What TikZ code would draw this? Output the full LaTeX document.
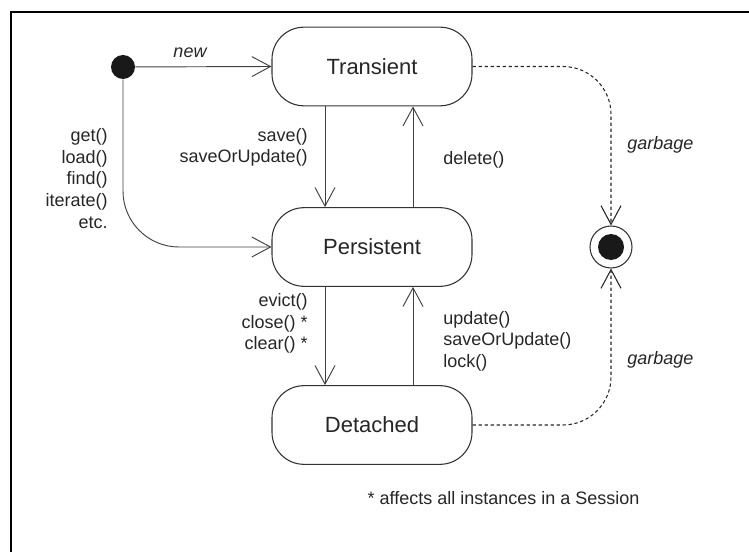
\documentclass[tikz,border=0pt]{standalone}
\usepackage{fontspec}
\setmainfont{Liberation Sans}
\usetikzlibrary{arrows.meta}
\begin{document}
\begin{tikzpicture}[x=0.75pt,y=-0.75pt,
  state/.style={draw=black!80, line width=0.8pt, rounded corners=24pt, minimum width=150pt, minimum height=59pt, font=\fontsize{16.5}{19}\selectfont, text=black!85},
  lbl/.style={font=\fontsize{13.5}{16.2}\selectfont, text=black!85, inner sep=0pt},
  ilbl/.style={font=\fontsize{13.5}{16.2}\selectfont\itshape, text=black!85, inner sep=0pt},
  arr/.style={draw=black!75, line width=0.7pt, -{Straight Barb[length=14pt,width=15pt]}},
  darr/.style={arr, draw=black!85, line width=0.8pt, dash pattern=on 2.5pt off 2pt, rounded corners=36pt}
]
\useasboundingbox (0,0) rectangle (749,552);
\draw[line width=1.2pt] (11,552) -- (11,12) -- (749,12);

\node[state] (T) at (372,66.5) {Transient};
\node[state] (P) at (372,247) {Persistent};
\node[state] (D) at (372,425) {Detached};

\node[circle, fill=black!90, minimum size=18pt, inner sep=0pt] (I) at (123,67) {};
\node[circle, draw=black!80, line width=0.8pt, minimum size=31.5pt, inner sep=0pt] (F) at (611,247) {};
\node[circle, fill=black!90, minimum size=19.5pt, inner sep=0pt] (Fi) at (611,247) {};

% connectors
\draw[arr] (I) -- (T.west);
\draw[arr, rounded corners=42pt] (I) |- (P.west);
\draw[arr] ([xshift=-35.25pt]T.south) -- ([xshift=-35.25pt]P.north);
\draw[arr] ([xshift=30.75pt]P.north) -- ([xshift=30.75pt]T.south);
\draw[arr] ([xshift=-35.25pt]P.south) -- ([xshift=-35.25pt]D.north);
\draw[arr] ([xshift=30.75pt]D.north) -- ([xshift=30.75pt]P.south);
\draw[darr] (T.east) -| (F.north);
\draw[darr] (D.east) -| (F.south);

% labels
\node[ilbl] (lnew) at (190,53) {new};
\node[lbl, anchor=east, align=right] (lget) at (108,178.5) {get()\\load()\\find()\\iterate()\\etc.};
\node[lbl, anchor=east, align=right] (lsave) at (308,147.5) {save()\\saveOrUpdate()};
\node[lbl, anchor=west] (ldel) at (443,160) {delete()};
\node[lbl, anchor=east, align=right] (levict) at (308,323.5) {evict()\\close() *\\clear() *};
\node[lbl, anchor=west, align=left] (lupd) at (443,341) {update()\\saveOrUpdate()\\lock()};
\node[ilbl, anchor=west] (lg1) at (627,145) {garbage};
\node[ilbl, anchor=west] (lg2) at (627,360) {garbage};
\node[lbl] (foot) at (503.5,498) {* affects all instances in a Session};
\end{tikzpicture}
\end{document}
